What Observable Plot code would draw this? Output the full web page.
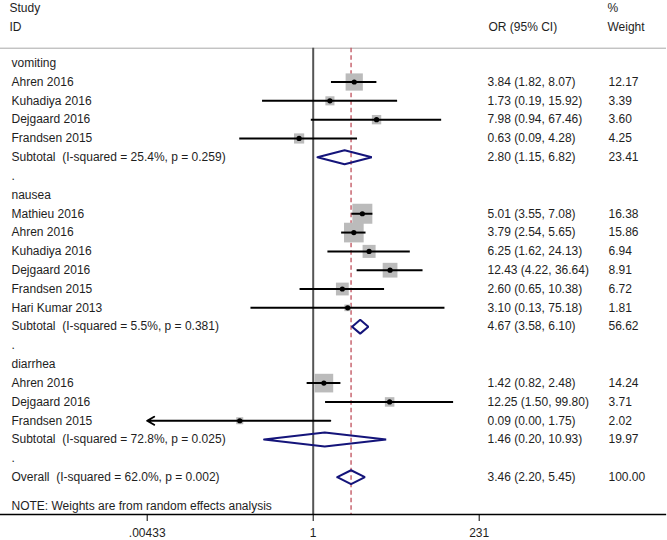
<!DOCTYPE html>
<html>
<head>
<meta charset="utf-8">
<script src="https://cdn.jsdelivr.net/npm/d3@7"></script>
<script src="https://cdn.jsdelivr.net/npm/@observablehq/plot@0.6"></script>
<style>
  html, body { margin: 0; padding: 0; background: #fff; }
  #chart svg { display: block; }
</style>
</head>
<body>
<div id="chart"></div>
<script>
// ---- Data ----
const rowLabels = [
  "vomiting", "Ahren 2016", "Kuhadiya 2016", "Dejgaard 2016", "Frandsen 2015",
  "Subtotal\u00a0 (I-squared = 25.4%, p = 0.259)", ".",
  "nausea", "Mathieu 2016", "Ahren 2016", "Kuhadiya 2016", "Dejgaard 2016", "Frandsen 2015", "Hari Kumar 2013",
  "Subtotal\u00a0 (I-squared = 5.5%, p = 0.381)", ".",
  "diarrhea", "Ahren 2016", "Dejgaard 2016", "Frandsen 2015",
  "Subtotal\u00a0 (I-squared = 72.8%, p = 0.025)", ".",
  "Overall\u00a0 (I-squared = 62.0%, p = 0.002)"
];
const rowKinds = [
  "group", "study", "study", "study", "study", "pooled", "blank",
  "group", "study", "study", "study", "study", "study", "study", "pooled", "blank",
  "group", "study", "study", "study", "pooled", "blank",
  "pooled"
];
const orEstimate = [
  null, 3.84, 1.73, 7.98, 0.63, 2.80, null,
  null, 5.01, 3.79, 6.25, 12.43, 2.60, 3.10, 4.67, null,
  null, 1.42, 12.25, 0.09, 1.46, null,
  3.46
];
const ciLower = [
  null, 1.82, 0.19, 0.94, 0.09, 1.15, null,
  null, 3.55, 2.54, 1.62, 4.22, 0.65, 0.13, 3.58, null,
  null, 0.82, 1.50, 0.00, 0.20, null,
  2.20
];
const ciUpper = [
  null, 8.07, 15.92, 67.46, 4.28, 6.82, null,
  null, 7.08, 5.65, 24.13, 36.64, 10.38, 75.18, 6.10, null,
  null, 2.48, 99.80, 1.75, 10.93, null,
  5.45
];
const weights = [
  null, 12.17, 3.39, 3.60, 4.25, 23.41, null,
  null, 16.38, 15.86, 6.94, 8.91, 6.72, 1.81, 56.62, null,
  null, 14.24, 3.71, 2.02, 19.97, null,
  100.00
];
const tickValues = [0.00433, 1, 231];
const tickLabels = [".00433", "1", "231"];
const overallOR = 3.46;
const noteText = "NOTE: Weights are from random effects analysis";
const headerStudy = ["Study", "ID"];
const headerOR = "OR (95% CI)";
const headerWeight = ["%", "Weight"];

// ---- Build table ----
const rows = rowLabels.map((label, i) => ({
  i, label, kind: rowKinds[i], est: orEstimate[i], lo: ciLower[i], hi: ciUpper[i], w: weights[i]
}));
const xMin = tickValues[0];
const studies = rows.filter(d => d.kind === "study");
const pooled = rows.filter(d => d.kind === "pooled");
const withValues = rows.filter(d => d.est != null);
const inRange = studies.filter(d => d.lo >= xMin);
const clipped = studies.filter(d => d.lo < xMin);

const halfH = 0.37; // diamond half height (rows)
const diamondPts = pooled.flatMap(d => [
  {id: d.i, x: d.lo, y: d.i},
  {id: d.i, x: d.est, y: d.i - halfH},
  {id: d.i, x: d.hi, y: d.i},
  {id: d.i, x: d.est, y: d.i + halfH},
  {id: d.i, x: d.lo, y: d.i}
]);
const tickRows = tickValues.map((v, k) => ({v, label: tickLabels[k]}));

const txt = "#1e1e1e";
const chart = Plot.plot({
  width: 667,
  height: 540,
  marginLeft: 0,
  marginRight: 2,
  marginTop: 47.7,
  marginBottom: 26,
  style: {fontFamily: "'Liberation Sans', Arial, sans-serif", fontSize: "12px", background: "#fff", color: "#000"},
  x: {type: "log", domain: [tickValues[0], tickValues[2]], range: [146.7, 478.7], axis: null},
  y: {type: "linear", domain: [0, 22], range: [62.7, 476.7], axis: null},
  r: {type: "sqrt", domain: [0, 100], range: [0, 27.87]},
  marks: [
    Plot.frame({anchor: "top", stroke: "#a8a8a8", strokeWidth: 1}),
    Plot.ruleX([1], {stroke: "#555", strokeWidth: 2}),
    Plot.ruleX([overallOR], {stroke: "#c0505c", strokeWidth: 1.3, strokeDasharray: "4.5,3"}),
    // weight boxes
    Plot.dot(studies, {x: "est", y: "i", r: "w", symbol: "square", fill: "#bbbbbb", stroke: "none"}),
    // confidence intervals
    Plot.ruleY(inRange, {y: "i", x1: "lo", x2: "hi", stroke: "#000", strokeWidth: 2}),
    Plot.arrow(clipped, {x1: "hi", y1: "i", x2: d => Math.max(d.lo, xMin), y2: "i", stroke: "#000", strokeWidth: 2, headLength: 6, headAngle: 60}),
    Plot.dot(studies, {x: "est", y: "i", r: 2.6, fill: "#000", stroke: "none"}),
    // pooled diamonds
    Plot.line(diamondPts, {x: "x", y: "y", z: "id", stroke: "#14147a", strokeWidth: 2, strokeLinejoin: "miter", fill: "none"}),
    // labels
    Plot.text(rows, {y: "i", text: "label", frameAnchor: "left", dx: 11, textAnchor: "start", fill: txt}),
    Plot.text(withValues, {y: "i", text: d => `${d.est.toFixed(2)} (${d.lo.toFixed(2)}, ${d.hi.toFixed(2)})`, frameAnchor: "left", dx: 487, textAnchor: "start", fill: txt}),
    Plot.text(withValues, {y: "i", text: d => d.w.toFixed(2), frameAnchor: "left", dx: 608, textAnchor: "start", fill: txt}),
    // header
    Plot.text(headerStudy, {y: (d, k) => [-2.9, -1.92][k], text: d => d, frameAnchor: "left", dx: 9, textAnchor: "start", fill: txt}),
    Plot.text([headerOR], {y: [-1.92], text: d => d, frameAnchor: "left", dx: 488, textAnchor: "start", fill: txt}),
    Plot.text(headerWeight, {y: (d, k) => [-2.9, -1.92][k], text: d => d, frameAnchor: "left", dx: 607, textAnchor: "start", fill: txt}),
    // note
    Plot.text([noteText], {y: [23.55], text: d => d, frameAnchor: "left", dx: 11, textAnchor: "start", fill: txt}),
    // axis
    Plot.frame({anchor: "bottom", stroke: "#000", strokeWidth: 1.3}),
    Plot.axisX({ticks: tickValues, tickFormat: () => "", tickSize: 7, anchor: "bottom", stroke: "#000"}),
    Plot.text(tickRows, {x: "v", text: "label", frameAnchor: "bottom", dy: 19, lineAnchor: "middle", fill: txt})
  ]
});
document.getElementById("chart").appendChild(chart);
</script>
</body>
</html>
